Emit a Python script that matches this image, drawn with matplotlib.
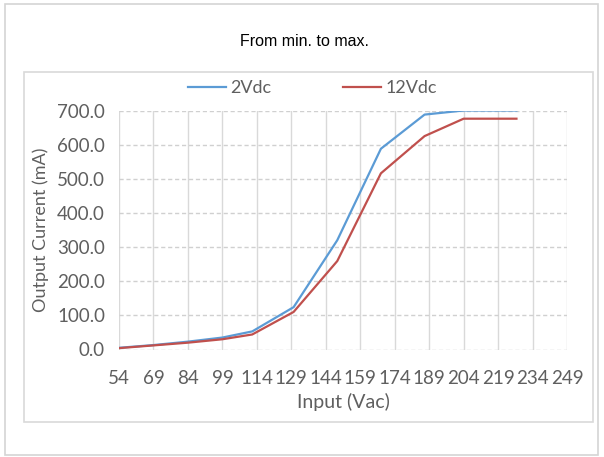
import matplotlib
matplotlib.use('Agg')
import matplotlib.pyplot as plt
from matplotlib.patches import Rectangle
from matplotlib.ticker import FormatStrFormatter

# data
input_vac = [54, 69, 84, 99, 112, 130, 149, 168, 187, 204, 227]
current_2vdc = [5, 13, 23, 35, 53, 124, 320, 588, 688, 700, 700]
current_12vdc = [4, 12, 20, 30, 44, 110, 259, 516, 625, 676, 676]
x_ticks = list(range(54, 250, 15))
y_ticks = list(range(0, 701, 100))

W, H = 604, 457
fig = plt.figure(figsize=(W / 100, H / 100), dpi=100)


def px_rect(x0, y0, x1, y1, color):
    fig.patches.append(Rectangle((x0 / W, 1 - y1 / H), (x1 - x0) / W, (y1 - y0) / H,
                                 transform=fig.transFigure, fill=False,
                                 edgecolor=color, linewidth=1.2))


px_rect(5, 4, 598, 455, '#d4d4d4')
px_rect(24, 72, 593, 422, '#d9d9d9')

fig.text(304 / W, 1 - 42 / H, 'From min. to max.', ha='center', va='center',
         family='Liberation Sans', fontsize=11.5, color='black')

ax = fig.add_axes([119 / W, 1 - 349.5 / H, (567 - 119) / W, (349.5 - 110.5) / H])
tick_font = 'Lato'
grey = '#5f5f5f'

ax.plot(input_vac, current_2vdc, color='#5b9bd5', linewidth=1.6, label='2Vdc')
ax.plot(input_vac, current_12vdc, color='#c0504d', linewidth=1.6, label='12Vdc')

ax.set_xlim(54, 249)
ax.set_ylim(0, 700)
ax.set_xticks(x_ticks)
ax.set_yticks(y_ticks)
ax.yaxis.set_major_formatter(FormatStrFormatter('%.1f'))
for s in ax.spines.values():
    s.set_visible(False)
ax.tick_params(length=0, labelsize=13.5, labelcolor=grey)
ax.tick_params(axis='x', pad=15)
ax.tick_params(axis='y', pad=10)
for lab in ax.get_xticklabels() + ax.get_yticklabels():
    lab.set_family(tick_font)
ax.xaxis.grid(True, color='#d9d9d9', linewidth=1.0, linestyle='-')
ax.yaxis.grid(True, color='#d0d0d0', linewidth=1.0, linestyle=(0, (3, 2)))
ax.set_axisbelow(True)

ax.set_xlabel('Input (Vac)', family=tick_font, fontsize=14, color=grey, labelpad=4)
ax.set_ylabel('Output Current (mA)', family=tick_font, fontsize=13, color=grey, labelpad=6)

leg = ax.legend(loc='lower center', bbox_to_anchor=(0.432, 1.03), ncol=2, frameon=False,
                prop={'family': tick_font, 'size': 13}, handlelength=2.1,
                handletextpad=0.25, columnspacing=4.0, borderaxespad=0.0)
for t in leg.get_texts():
    t.set_color(grey)

fig.savefig('out.png', dpi=100)
